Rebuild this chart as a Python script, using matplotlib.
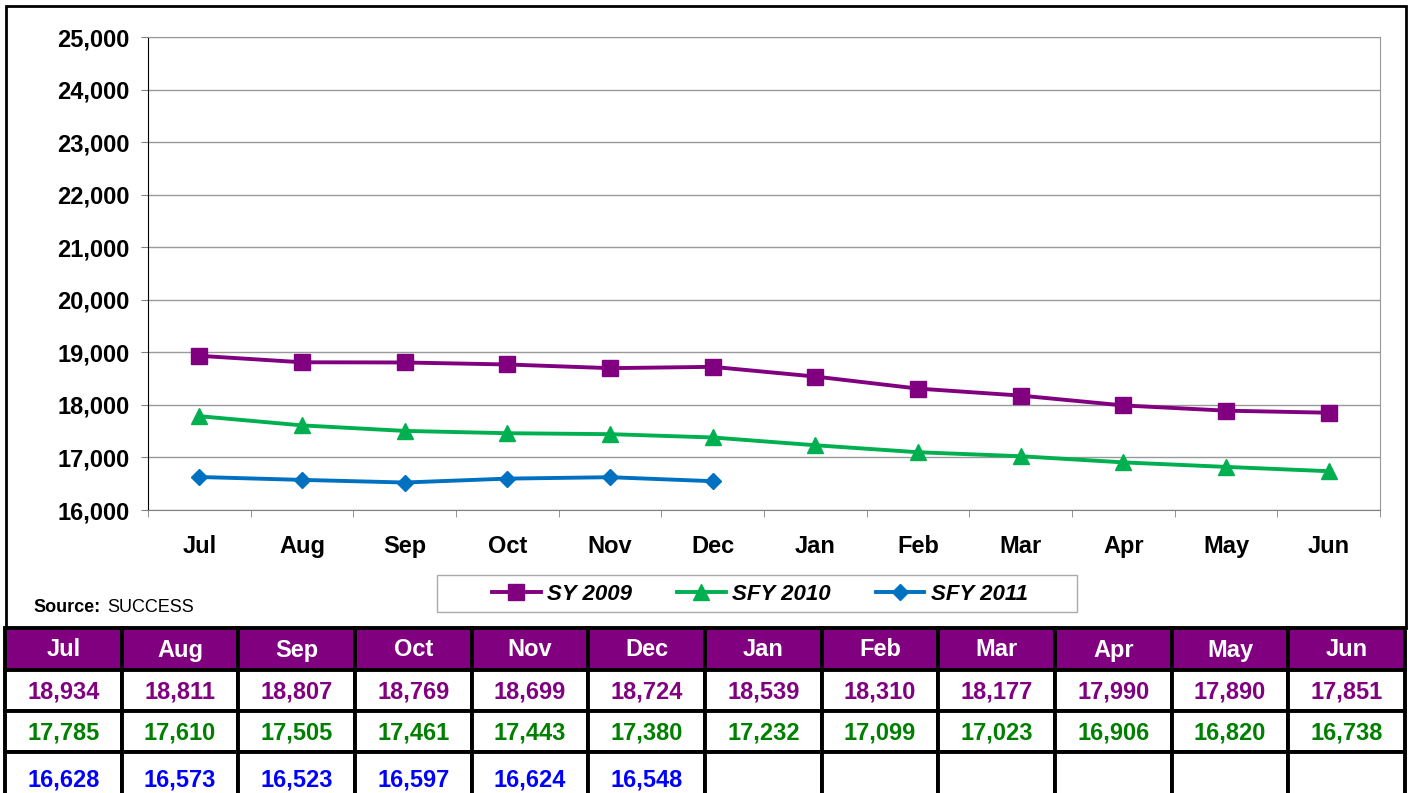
import matplotlib
matplotlib.use("Agg")
import matplotlib.pyplot as plt
from matplotlib.patches import Rectangle
from matplotlib.ticker import FuncFormatter, FixedLocator, MultipleLocator

plt.rcParams['font.family'] = ['Liberation Sans', 'DejaVu Sans']

months = ["Jul", "Aug", "Sep", "Oct", "Nov", "Dec", "Jan", "Feb", "Mar", "Apr", "May", "Jun"]
sy2009 = [18934, 18811, 18807, 18769, 18699, 18724, 18539, 18310, 18177, 17990, 17890, 17851]
sfy2010 = [17785, 17610, 17505, 17461, 17443, 17380, 17232, 17099, 17023, 16906, 16820, 16738]
sfy2011 = [16628, 16573, 16523, 16597, 16624, 16548]
series_names = ["SY 2009", "SFY 2010", "SFY 2011"]

W, H = 1414, 793
fig = plt.figure(figsize=(W / 100, H / 100), dpi=100)

def fx(px):
    return px / W

def fy(py):
    return 1 - py / H

# outer chart frame
fig.patches.append(Rectangle((fx(6), fy(628)), fx(1406) - fx(6), fy(6) - fy(628),
                             transform=fig.transFigure, fill=False, ec='black', lw=2, zorder=0))

ax = fig.add_axes([fx(148), fy(510), fx(1380) - fx(148), fy(37) - fy(510)])
x = list(range(len(months)))
ax.plot(x, sy2009, color='#800080', lw=2.8, marker='s', ms=11, label=series_names[0], zorder=3)
ax.plot(x, sfy2010, color='#00B050', lw=2.8, marker='^', ms=11, label=series_names[1], zorder=3)
ax.plot(x[:len(sfy2011)], sfy2011, color='#0070C0', lw=2.8, marker='D', ms=8.5, label=series_names[2], zorder=3)

ax.set_xlim(-0.5, 11.5)
ax.set_ylim(16000, 25000)
ax.yaxis.set_major_locator(MultipleLocator(1000))
ax.yaxis.set_major_formatter(FuncFormatter(lambda v, p: f"{int(v):,}"))
ax.grid(axis='y', color='#999999', lw=1)
ax.set_axisbelow(True)
ax.set_xticks(x)
ax.set_xticklabels(months, fontsize=17, fontweight='bold')
ax.xaxis.set_minor_locator(FixedLocator([i - 0.5 for i in range(13)]))
ax.tick_params(axis='x', which='major', length=0, pad=18)
ax.tick_params(axis='x', which='minor', length=5, color='#808080', direction='out')
ax.tick_params(axis='y', length=5, color='#808080', direction='out', labelsize=17, pad=8)
for lab in ax.get_yticklabels():
    lab.set_fontweight('bold')
for s in ['top', 'right']:
    ax.spines[s].set_color('#999999')
ax.spines['left'].set_color('black')
ax.spines['bottom'].set_color('#808080')

# legend box
fig.patches.append(Rectangle((fx(437), fy(612)), fx(1077) - fx(437), fy(575) - fy(612),
                             transform=fig.transFigure, fc='white', ec='#aaaaaa', lw=1, zorder=1))
leg = fig.legend(loc='center', bbox_to_anchor=(fx(760), fy(594)), ncol=3,
                 prop={'size': 16, 'weight': 'bold', 'style': 'italic'},
                 frameon=False, handlelength=2.2,
                 columnspacing=2.0, handletextpad=0.3, borderpad=0.2)
leg.set_zorder(4)

fig.text(fx(33), fy(608), "Source:", fontsize=13, fontweight='bold', va='center', ha='left')
fig.text(fx(107), fy(608), "SUCCESS", fontsize=13, va='center', ha='left')

# data table
left, right = 5, 1405
colw = (right - left) / 12
row_tops = [628, 670, 711, 752]
row_h = 41
rows = [months, [f"{v:,}" for v in sy2009], [f"{v:,}" for v in sfy2010],
        [f"{v:,}" for v in sfy2011] + [""] * (12 - len(sfy2011))]
colors = ['white', '#800080', '#008000', '#0000FF']
for r, (top, vals) in enumerate(zip(row_tops, rows)):
    h = 42 if r == 0 else row_h
    if r == 3:
        h = 60
    for c in range(12):
        x0 = left + c * colw
        fig.patches.append(Rectangle((fx(x0), fy(top + h)), colw / W, h / H,
                                     transform=fig.transFigure,
                                     fc='#800080' if r == 0 else 'white',
                                     ec='black', lw=2.8, zorder=2))
        ty = top + 22 if r < 3 else top + 28
        fig.text(fx(x0 + colw / 2), fy(ty), vals[c], ha='center', va='center',
                 fontsize=17, fontweight='bold', color=colors[r], zorder=3)

fig.savefig("out.png", dpi=100)
